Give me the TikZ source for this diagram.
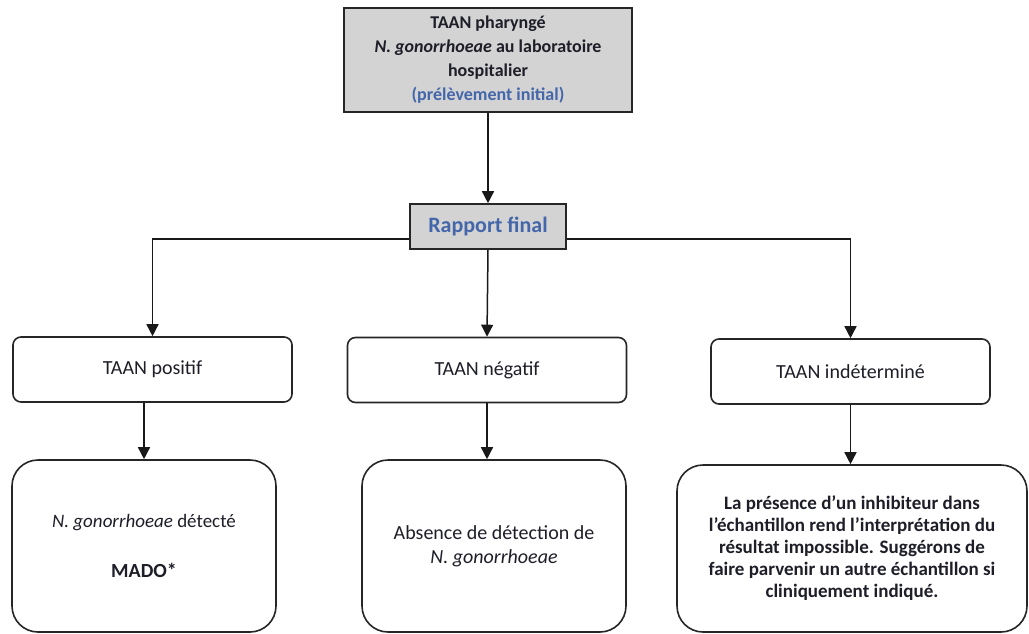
\documentclass[tikz,border=0pt]{standalone}
\usepackage{fontspec}
\setmainfont{Carlito}
\usetikzlibrary{arrows.meta}
\definecolor{boxgray}{HTML}{D3D3D3}
\definecolor{linkblue}{HTML}{4466AA}
\definecolor{txt}{HTML}{1E1E28}
\tikzset{
  base/.style={draw=black!85, line width=1.6pt, align=center, text=txt, inner sep=2pt},
  graybox/.style={base, fill=boxgray},
  midbox/.style={base, rounded corners=8pt, minimum width=279pt, minimum height=65pt, font=\fontsize{20}{24}\selectfont},
  lowbox/.style={base, rounded corners=26pt, font=\fontsize{20}{24}\selectfont},
  conn/.style={line width=1.5pt, draw=black!90, -{Triangle[length=12pt,width=12pt]}},
  plain/.style={line width=1.5pt, draw=black!90}
}
\begin{document}
\begin{tikzpicture}[x=1pt,y=-1pt]
\useasboundingbox (0,0) rectangle (1029,633);
\fill[white] (0,0) rectangle (1029,633);

\node[graybox, minimum width=288pt, minimum height=104pt, font=\bfseries\fontsize{18}{24}\selectfont] (top) at (488,60)
 {TAAN pharyngé\\ \textit{N. gonorrhoeae} au laboratoire\\ hospitalier\\ \textcolor{linkblue}{(prélèvement initial)}};

\node[graybox, minimum width=156pt, minimum height=45pt, text=linkblue, font=\bfseries\fontsize{22}{24}\selectfont] (rap) at (488,226.5) {Rapport final};

\node[midbox] (b1) at (152.5,369.5) {TAAN positif};
\node[midbox] (b2) at (487,370) {TAAN négatif};
\node[midbox] (b3) at (850.5,371.5) {TAAN indéterminé};

\node[lowbox, minimum width=264pt, minimum height=172pt] (b4) at (144,546)
 {{\fontsize{19}{22}\selectfont\textit{N. gonorrhoeae} détecté}\\[26pt] \textbf{MADO*}};
\node[lowbox, minimum width=264pt, minimum height=172pt] (b5) at (494,546)
 {Absence de détection de\\ \textit{N. gonorrhoeae}};
\node[lowbox, minimum width=350pt, minimum height=167pt, font=\bfseries\fontsize{19}{22}\selectfont] (b6) at (852,548.5)
 {La présence d’un inhibiteur dans\\ l’échantillon rend l’interprétation du\\ résultat impossible. Suggérons de\\ faire parvenir un autre échantillon si\\ cliniquement indiqué.};

\draw[conn] (top.south) -- (rap.north);
\draw[conn] (rap.south west) ++(0,-11) -| (b1.north);
\draw[conn] (rap.south east) ++(0,-11) -| (b3.north);
\draw[conn] (rap.south) -- (b2.north);

\draw[conn] (b4.north |- b1.south) -- (b4.north);
\draw[conn] (b2.south) -- (b2.south |- b5.north);
\draw[conn] (b3.south) -- (b3.south |- b6.north);
\end{tikzpicture}
\end{document}
